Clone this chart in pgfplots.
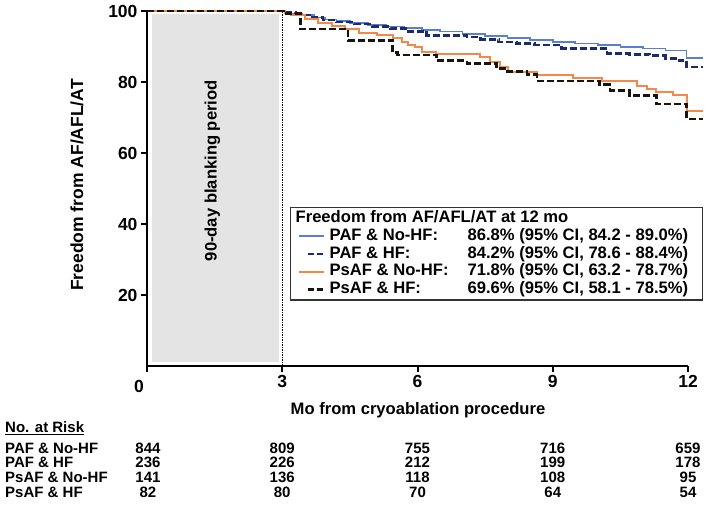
\documentclass[border=0pt]{standalone}
\usepackage{fontspec}
\setmainfont{Liberation Sans}
\usepackage{pgfplots}
\pgfplotsset{compat=1.18}
\definecolor{cblue}{HTML}{5A7FD0}
\definecolor{cnavy}{HTML}{1C2B6E}
\definecolor{corange}{HTML}{F0894A}
\definecolor{cblack}{HTML}{1A120C}
\definecolor{cgray}{HTML}{E4E4E4}
\newcommand{\fA}{\fontsize{16.6}{18}\selectfont\bfseries}
\newcommand{\fT}{\fontsize{15}{16}\selectfont\bfseries}
\begin{document}
\begin{tikzpicture}[x=1pt,y=1pt]
\path[use as bounding box] (-147,-139) rectangle (562,366);
\begin{axis}[
  at={(0,0)}, anchor=south west,
  scale only axis, width=541pt, height=355pt,
  xmin=0, xmax=12, ymin=0, ymax=100,
  axis lines*=left,
  axis line style={line width=2.2pt, black},
  xtick={0,3,6,9,12}, xticklabels={,3,6,9,12},
  ytick={20,40,60,80,100},
  tick align=outside, major tick length=6pt,
  tick style={line width=2pt, black},
  ticklabel style={font=\fontsize{17.5}{18}\selectfont\bfseries},
  /pgf/number format/assume math mode=true,
  clip=false,
  legend cell align=left,
  legend style={at={(axis cs:3.17,44.8)}, anchor=north west, draw=black!80, line width=1.5pt,
    fill=white, font=\fA, row sep=0pt, inner sep=2pt,
    nodes={inner sep=1pt, text height=12pt, text depth=3.7pt}},
]
\fill[cgray] (axis cs:0.12,1) rectangle (axis cs:2.93,99.2);
\node[rotate=90, font=\fA] at (axis cs:1.45,55) {90-day blanking period};
\draw[line width=1.5pt, densely dotted] (axis cs:3,0) -- (axis cs:3,100);

\addlegendimage{empty legend}
\addlegendentry{\hspace*{-34pt}Freedom from AF/AFL/AT at 12 mo}

\addplot[const plot, cblue, line width=1.6pt,
  legend image code/.code={\path[draw=none,fill=none] (0pt,0pt) -- (36pt,0pt); \draw[solid, cblue, line width=1.6pt] (6pt,0pt) -- (31pt,0pt);}]
coordinates {(0,100)(3.05,99.7)(3.2,99.3)(3.45,98.8)(3.7,98.2)(3.95,97.6)(4.2,97.1)(4.5,96.6)(4.9,96.1)(5.3,95.6)(5.7,95.2)(6.1,94.7)(6.5,94.2)(7.0,93.5)(7.5,92.9)(8.0,92.4)(8.5,91.8)(9.0,91.3)(9.5,90.8)(10.0,90.4)(10.5,89.9)(11.0,89.4)(11.5,88.9)(11.97,86.8)(12.33,86.8)};
\addlegendentry{\makebox[138pt][l]{PAF \& No-HF:}\makebox[232pt][l]{86.8\% (95\% CI, 84.2 - 89.0\%)}}

\addplot[const plot, cnavy, line width=2.6pt, dash pattern=on 7pt off 3pt,
  legend image code/.code={\path[draw=none,fill=none] (0pt,0pt) -- (36pt,0pt); \draw[solid, cnavy, line width=2.6pt] (15pt,0pt) -- (21pt,0pt); \draw[solid, cnavy, line width=2.6pt] (24pt,0pt) -- (30pt,0pt);}]
coordinates {(0,100)(3.1,99.5)(3.3,98.9)(3.6,98.2)(3.9,97.5)(4.2,96.9)(4.6,96.3)(5.0,95.7)(5.4,95.1)(5.8,94.3)(6.2,93.1)(7.1,92.7)(7.4,92.0)(7.8,91.3)(8.2,90.8)(8.6,90.4)(9.2,89.5)(10.2,88.1)(10.7,87.8)(11.15,87.4)(11.5,86.7)(11.8,86.0)(11.97,84.2)(12.33,84.2)};
\addlegendentry{\makebox[138pt][l]{PAF \& HF:}84.2\% (95\% CI, 78.6 - 88.4\%)}

\addplot[const plot, corange, line width=2pt,
  legend image code/.code={\path[draw=none,fill=none] (0pt,0pt) -- (36pt,0pt); \draw[solid, corange, line width=2pt] (6pt,0pt) -- (31pt,0pt);}]
coordinates {(0,100)(3.05,99.5)(3.2,98.9)(3.5,97.7)(3.8,96.6)(4.1,95.8)(4.4,94.9)(4.7,93.8)(5.1,93.2)(5.45,92.4)(5.65,91.3)(5.8,90.4)(5.95,89.9)(6.1,88.5)(6.4,88.0)(7.38,87.1)(7.6,85.7)(7.83,84.3)(8.0,82.9)(8.65,82.0)(9.45,81.0)(10.1,80.4)(10.86,78.9)(11.1,77.9)(11.3,77.3)(11.66,76.3)(11.97,71.8)(12.33,71.8)};
\addlegendentry{\makebox[138pt][l]{PsAF \& No-HF:}71.8\% (95\% CI, 63.2 - 78.7\%)}

\addplot[const plot, cblack, line width=2.8pt, dash pattern=on 7pt off 3pt,
  legend image code/.code={\path[draw=none,fill=none] (0pt,0pt) -- (36pt,0pt); \draw[solid, cblack, line width=2.8pt] (15pt,0pt) -- (21pt,0pt); \draw[solid, cblack, line width=2.8pt] (24pt,0pt) -- (30pt,0pt);}]
coordinates {(0,100)(3.03,99.3)(3.4,94.9)(4.46,91.8)(5.45,88.3)(5.55,87.6)(6.43,86.0)(7.1,85.1)(7.76,83.8)(8.0,82.9)(8.43,82.0)(8.65,80.3)(10.04,79.2)(10.27,77.7)(10.71,76.3)(11.3,73.8)(11.97,69.6)(12.33,69.6)};
\addlegendentry{\makebox[138pt][l]{PsAF \& HF:}69.6\% (95\% CI, 58.1 - 78.5\%)}
\end{axis}

\node[font=\fontsize{17.5}{18}\selectfont\bfseries] at (-8,-20) {0};
\node[rotate=90, font=\fontsize{17.5}{19}\selectfont\bfseries] at (-70,181) {Freedom from AF/AFL/AT};
\node[font=\fA] at (271,-44) {Mo from cryoablation procedure};

\node[anchor=west, font=\fT, inner sep=0pt] at (-142,-62) {\underline{No. at Risk}};
\foreach \nm/\yy in {PAF \& No-HF/-82, PAF \& HF/-96, PsAF \& No-HF/-111, PsAF \& HF/-126}{
  \node[anchor=west, font=\fT, inner sep=0pt] at (-142,\yy) {\nm};
}
\foreach \a/\b/\c/\d/\e/\yy in {844/809/755/716/659/-82, 236/226/212/199/178/-96, 141/136/118/108/95/-111, 82/80/70/64/54/-126}{
  \node[font=\fT, inner sep=0pt] at (1,\yy) {\a};
  \node[font=\fT, inner sep=0pt] at (135.25,\yy) {\b};
  \node[font=\fT, inner sep=0pt] at (270.5,\yy) {\c};
  \node[font=\fT, inner sep=0pt] at (405.75,\yy) {\d};
  \node[font=\fT, inner sep=0pt] at (541,\yy) {\e};
}
\end{tikzpicture}
\end{document}
